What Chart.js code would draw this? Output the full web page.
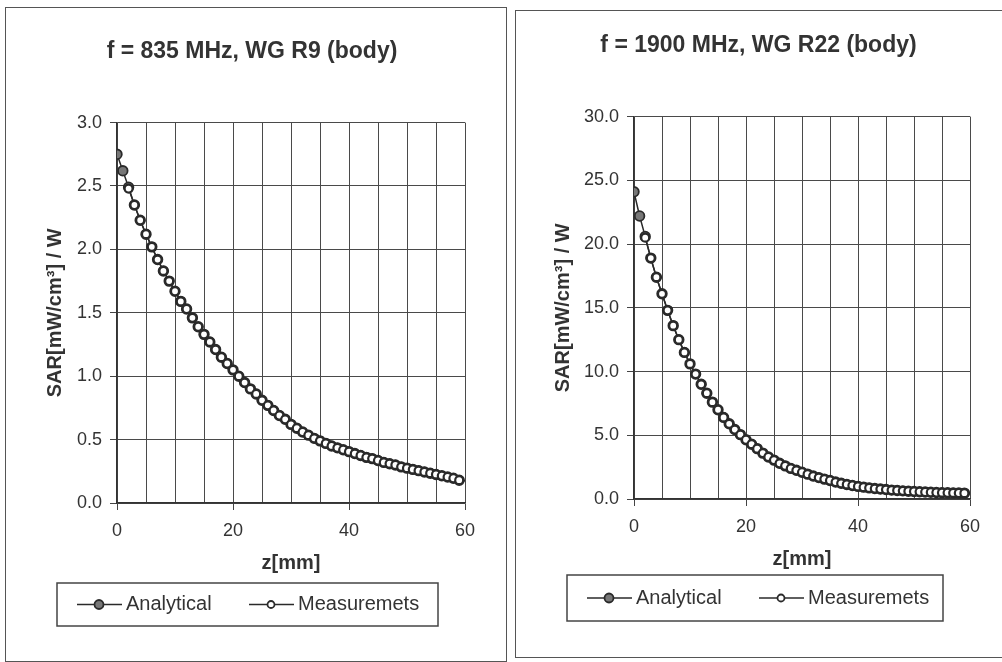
<!DOCTYPE html>
<html>
<head>
<meta charset="utf-8">
<script src="https://cdn.jsdelivr.net/npm/chart.js@4.4.1/dist/chart.umd.min.js"></script>
<style>
body { margin:0; background:#fff; width:1002px; height:662px; overflow:hidden; position:relative; }
.panel { position:absolute; border:1px solid #555; box-sizing:border-box; background:#fff; }
#p1 { left:5px; top:7px; width:502px; height:655px; }
#p2 { left:515px; top:10px; width:502px; height:648px; }
canvas { display:block; }
</style>
</head>
<body>
<div class="panel" id="p1"><canvas id="chart835" width="500" height="651"></canvas></div>
<div class="panel" id="p2"><canvas id="chart1900" width="500" height="646"></canvas></div>
<script>
// z positions in mm
var zAnalytical = [0, 1, 2, 3, 4, 5, 6, 7, 8, 9, 10, 11, 12, 13, 14, 15, 16, 17, 18, 19,
	20, 21, 22, 23, 24, 25, 26, 27, 28, 29, 30, 31, 32, 33, 34, 35, 36, 37, 38, 39,
	40, 41, 42, 43, 44, 45, 46, 47, 48, 49, 50, 51, 52, 53, 54, 55, 56, 57, 58, 59, 60];
var zMeasured = [2, 3, 4, 5, 6, 7, 8, 9, 10, 11, 12, 13, 14, 15, 16, 17, 18, 19,
	20, 21, 22, 23, 24, 25, 26, 27, 28, 29, 30, 31, 32, 33, 34, 35, 36, 37, 38, 39,
	40, 41, 42, 43, 44, 45, 46, 47, 48, 49, 50, 51, 52, 53, 54, 55, 56, 57, 58, 59];

// f = 835 MHz
var sar835Analytical = [2.75, 2.62, 2.49, 2.35, 2.23, 2.12, 2.02, 1.92, 1.83, 1.75,
	1.67, 1.59, 1.53, 1.46, 1.39, 1.33, 1.27, 1.21, 1.15, 1.10,
	1.05, 1.00, 0.95, 0.90, 0.86, 0.81, 0.77, 0.73, 0.69, 0.66,
	0.62, 0.59, 0.56, 0.535, 0.51, 0.49, 0.47, 0.45, 0.435, 0.42,
	0.405, 0.39, 0.375, 0.36, 0.35, 0.335, 0.32, 0.31, 0.30, 0.285,
	0.275, 0.265, 0.255, 0.245, 0.235, 0.225, 0.215, 0.205, 0.195, 0.18, 0.175];
var sar835Measured = [2.48, 2.35, 2.23, 2.12, 2.02, 1.92, 1.83, 1.75,
	1.67, 1.59, 1.53, 1.46, 1.39, 1.33, 1.27, 1.21, 1.15, 1.10,
	1.05, 1.00, 0.95, 0.90, 0.86, 0.81, 0.77, 0.73, 0.69, 0.66,
	0.62, 0.59, 0.56, 0.535, 0.51, 0.49, 0.47, 0.45, 0.435, 0.42,
	0.405, 0.39, 0.375, 0.36, 0.35, 0.335, 0.32, 0.31, 0.30, 0.285,
	0.275, 0.265, 0.255, 0.245, 0.235, 0.225, 0.215, 0.205, 0.195, 0.18];

// f = 1900 MHz
var sar1900Analytical = [24.1, 22.2, 20.6, 18.9, 17.4, 16.1, 14.8, 13.6, 12.5, 11.5,
	10.6, 9.8, 9.0, 8.3, 7.6, 7.0, 6.4, 5.9, 5.45, 5.05,
	4.65, 4.3, 3.95, 3.6, 3.3, 3.05, 2.8, 2.6, 2.4, 2.25,
	2.1, 1.95, 1.8, 1.68, 1.56, 1.45, 1.33, 1.23, 1.14, 1.06,
	0.99, 0.93, 0.87, 0.82, 0.78, 0.74, 0.70, 0.67, 0.64, 0.61,
	0.59, 0.57, 0.55, 0.53, 0.51, 0.50, 0.49, 0.48, 0.47, 0.46, 0.45];
var sar1900Measured = [20.5, 18.9, 17.4, 16.1, 14.8, 13.6, 12.5, 11.5,
	10.6, 9.8, 9.0, 8.3, 7.6, 7.0, 6.4, 5.9, 5.45, 5.05,
	4.65, 4.3, 3.95, 3.6, 3.3, 3.05, 2.8, 2.6, 2.4, 2.25,
	2.1, 1.95, 1.8, 1.68, 1.56, 1.45, 1.33, 1.23, 1.14, 1.06,
	0.99, 0.93, 0.87, 0.82, 0.78, 0.74, 0.70, 0.67, 0.64, 0.61,
	0.59, 0.57, 0.55, 0.53, 0.51, 0.50, 0.49, 0.48, 0.47, 0.46];

var seriesLabels = ['Analytical', 'Measuremets'];
var fontFamily = '"Liberation Sans", Arial, sans-serif';
Chart.defaults.font.family = fontFamily;
Chart.defaults.color = '#333';

function toPoints(xs, ys) {
	return xs.map(function (x, i) { return { x: x, y: ys[i] }; });
}

// legend in a framed box, like the spreadsheet one
var boxLegend = {
	id: 'boxLegend',
	afterDraw: function (chart, args, opts) {
		var ctx = chart.ctx;
		ctx.save();
		ctx.strokeStyle = '#444';
		ctx.lineWidth = 1.5;
		ctx.strokeRect(opts.x, opts.y, opts.w, opts.h);
		var cy = opts.y + opts.h / 2;
		var items = [chart.data.datasets[1], chart.data.datasets[0]];
		var offsets = [20, 192];
		ctx.font = '20px ' + fontFamily;
		ctx.textBaseline = 'middle';
		items.forEach(function (ds, i) {
			var x0 = opts.x + offsets[i];
			ctx.strokeStyle = '#2a2a2a';
			ctx.lineWidth = 1.5;
			ctx.beginPath();
			ctx.moveTo(x0, cy);
			ctx.lineTo(x0 + 45, cy);
			ctx.stroke();
			ctx.beginPath();
			ctx.arc(x0 + 22, cy, ds.legendRadius, 0, Math.PI * 2);
			ctx.fillStyle = ds.pointBackgroundColor;
			ctx.fill();
			ctx.lineWidth = 1.8;
			ctx.stroke();
			ctx.fillStyle = '#333';
			ctx.fillText(ds.label, x0 + 49, cy);
		});
		ctx.restore();
	}
};

function makeChart(id, analytical, measured, yMax, yStep, title, lay) {
	var last = zAnalytical.length - 1;
	return new Chart(document.getElementById(id), {
		type: 'line',
		data: {
			datasets: [{
				label: seriesLabels[1],
				data: toPoints(zMeasured, measured),
				borderColor: '#2a2a2a',
				borderWidth: 1.5,
				pointRadius: 4,
				pointBorderWidth: 2.2,
				pointBorderColor: '#2a2a2a',
				pointBackgroundColor: '#fff',
				legendRadius: 3.5,
				order: 1
			}, {
				label: seriesLabels[0],
				data: toPoints(zAnalytical, analytical),
				borderColor: '#2a2a2a',
				borderWidth: 1.5,
				pointRadius: function (c) { return c.dataIndex === last ? 0 : 4.8; },
				pointBorderWidth: 1.8,
				pointBorderColor: '#2a2a2a',
				pointBackgroundColor: '#777',
				legendRadius: 4.5,
				order: 2
			}]
		},
		options: {
			responsive: false,
			animation: false,
			events: [],
			layout: { padding: { left: lay.left, right: lay.right, top: 0, bottom: lay.bottom } },
			plugins: {
				legend: { display: false },
				tooltip: { enabled: false },
				title: {
					display: true,
					text: title,
					color: '#333',
					font: { size: 23, weight: 'bold' },
					padding: { top: lay.titleTop, bottom: lay.titleBottom }
				},
				boxLegend: lay.legend
			},
			scales: {
				x: {
					type: 'linear',
					min: 0,
					max: 60,
					afterFit: function (s) { s.height = 76; },
					ticks: {
						stepSize: 5,
						autoSkip: false,
						maxRotation: 0,
						padding: 10,
						color: '#333',
						font: { size: 18 },
						callback: function (v) { return v % 20 === 0 ? v : ''; }
					},
					grid: {
						color: '#4a4a4a',
						lineWidth: 1,
						tickLength: 7,
						tickColor: function (c) { return c.tick && c.tick.value % 20 === 0 ? '#444' : 'rgba(0,0,0,0)'; }
					},
					border: { color: '#333', width: 1.5 },
					title: {
						display: true,
						text: 'z[mm]',
						color: '#333',
						font: { size: 20, weight: 'bold' },
						padding: { top: 4, bottom: 4 }
					}
				},
				y: {
					min: 0,
					max: yMax,
					afterFit: function (s) { s.width = lay.yWidth; },
					ticks: {
						stepSize: yStep,
						padding: 8,
						color: '#333',
						font: { size: 18 },
						callback: function (v) { return v.toFixed(1); }
					},
					grid: { color: '#4a4a4a', lineWidth: 1, tickLength: 7, tickColor: '#444' },
					border: { color: '#333', width: 1.5 },
					title: {
						display: true,
						text: 'SAR[mW/cm³] / W',
						color: '#333',
						font: { size: 20, weight: 'bold' },
						padding: { top: 4, bottom: 4 }
					}
				}
			}
		},
		plugins: [boxLegend]
	});
}

makeChart('chart835', sar835Analytical, sar835Measured, 3.0, 0.5, 'f = 835 MHz, WG R9 (body)', {
	left: 33, yWidth: 78, right: 41, bottom: 80, titleTop: 30, titleBottom: 57,
	legend: { x: 51, y: 575, w: 381, h: 43 }
});
makeChart('chart1900', sar1900Analytical, sar1900Measured, 30.0, 5, 'f = 1900 MHz, WG R22 (body)', {
	left: 31, yWidth: 87, right: 46, bottom: 82, titleTop: 21, titleBottom: 57,
	legend: { x: 51, y: 564, w: 376, h: 46 }
});
</script>
</body>
</html>
